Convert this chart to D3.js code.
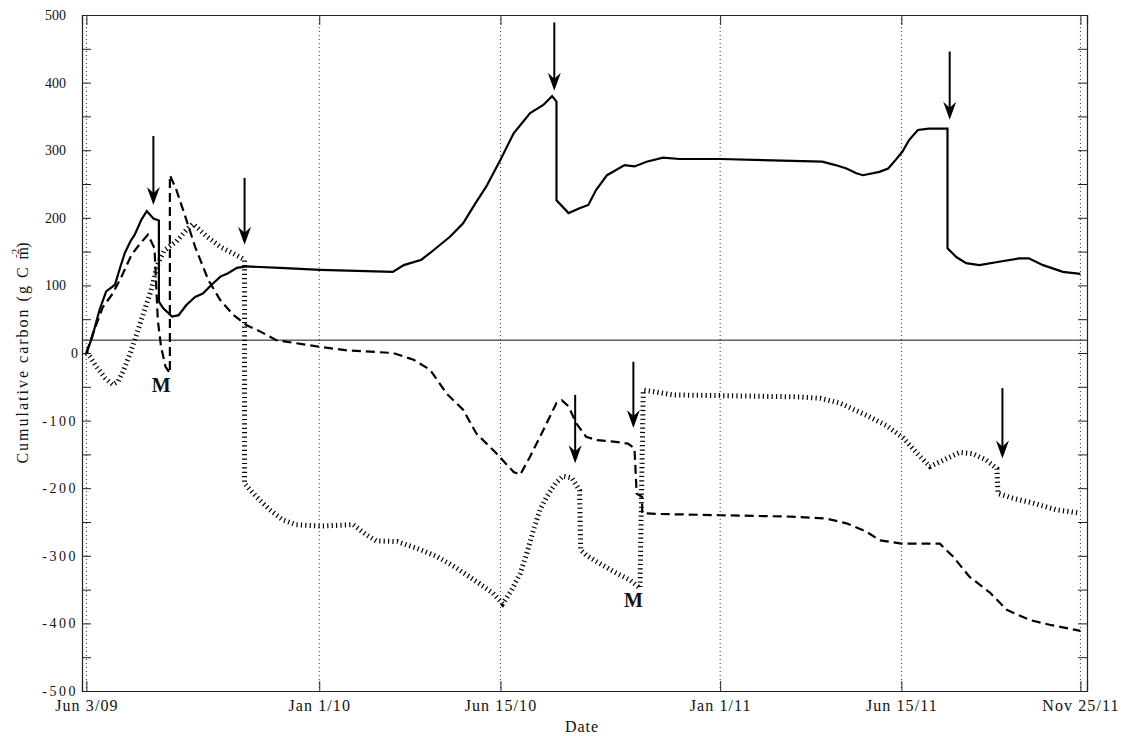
<!DOCTYPE html>
<html><head><meta charset="utf-8">
<script src="https://cdn.jsdelivr.net/npm/d3@7"></script>
<style>
body{margin:0;background:#fff;}
svg text{font-family:"Liberation Serif","Times New Roman",serif !important;fill:#111;}
</style>
</head><body>
<svg id="chart" width="1126" height="736" font-family="Liberation Serif, serif"></svg>
<script>
// ---------- data (days since Jun 3 2009, cumulative carbon g C m-2) ----------
const startDate = "2009-06-03";
const domainDates = ["2009-05-30", "2011-12-01"];
const xTickDates = ["2009-06-03", "2010-01-01", "2010-06-15", "2011-01-01", "2011-06-15", "2011-11-25"];
const xTickLabels = ["Jun 3/09", "Jan 1/10", "Jun 15/10", "Jan 1/11", "Jun 15/11", "Nov 25/11"];
const yTickValues = [-500, -400, -300, -200, -100, 0, 100, 200, 300, 400, 500];
const yMinorValues = [-450, -350, -250, -150, -50, 50, 150, 250, 350, 450];
const referenceLevel = 19;

const solidDays = [0,5,12,18,26,31,35,40,44,50,55,61,66,66,70,78,84,91,99,106,114,122,129,137,146,176,213,279,289,305,316,331,343,354,364,377,389,404,416,424,428,428,439,449,457,464,474,490,499,510,525,540,577,670,682,692,701,707,722,730,737,743,749,757,767,784,784,792,801,813,831,849,858,871,889,905];
const solidValues = [0,22,64,91,101,128,148,165,175,197,210,199,196,76,66,54,56,71,83,88,101,113,118,126,128,126,123,120,130,138,152,172,192,221,246,286,325,355,367,380,372,226,207,214,219,241,263,278,276,283,289,287,287,283,278,273,266,263,268,273,286,298,315,330,332,332,155,142,133,130,135,140,140,130,120,117];

const dashedDays = [0,6,15,24,32,41,49,56,62,65,68,72,76,76,82,90,99,111,122,134,146,158,173,213,237,279,298,313,328,343,355,373,389,395,404,413,422,428,433,439,446,455,465,480,493,499,501,506,506,519,577,641,674,692,710,722,742,777,789,804,823,838,859,877,905];
const dashedValues = [0,29,68,88,113,145,162,175,155,49,9,-20,-30,263,241,202,157,108,78,56,41,32,19,9,4,0,-10,-25,-60,-84,-119,-148,-176,-180,-153,-124,-94,-74,-70,-79,-104,-124,-129,-131,-134,-141,-208,-213,-237,-238,-240,-242,-245,-252,-264,-277,-282,-282,-301,-331,-355,-380,-395,-402,-411];

const dottedDays = [0,3,9,17,24,29,34,40,46,52,59,64,71,82,91,97,110,122,134,144,144,155,167,179,191,213,243,255,264,283,301,319,337,355,370,379,387,395,401,407,413,419,427,434,442,449,450,455,467,483,495,504,507,516,534,577,650,668,686,710,728,744,756,768,777,795,807,819,829,830,844,862,883,901,905];
const dottedValues = [0,-5,-20,-37,-47,-42,-25,0,29,59,93,128,152,165,182,191,172,157,147,138,-193,-213,-232,-247,-254,-256,-254,-269,-278,-279,-289,-301,-318,-338,-355,-371,-351,-326,-296,-262,-232,-213,-193,-182,-185,-203,-291,-299,-311,-326,-336,-348,-55,-57,-62,-63,-65,-67,-74,-92,-107,-126,-148,-168,-161,-147,-149,-158,-171,-208,-215,-222,-232,-236,-237];

const arrowDays = [61, 144, 426, 786, 445, 498, 834];
const arrowTop  = [321, 259, 489, 446, -62, -13, -52];
const arrowTip  = [219, 160, 388, 345, -163, -111, -156];

const mDays = [68, 498];
const mValues = [-58, -375];
const mLabels = ["M", "M"];

// ---------- layout ----------
const FONT = '"Liberation Serif","Times New Roman",serif';
const svg = d3.select("#chart");
const L = 82, R = 1087, T = 15, B = 691;
const parse = d3.timeParse("%Y-%m-%d");
const start = parse(startDate);
const toDate = d => d3.timeDay.offset(start, d);

const x = d3.scaleTime().domain(domainDates.map(parse)).range([L, R]);
const y = d3.scaleLinear().domain([-500, 500]).range([B, T]);

// gridlines (dotted vertical)
svg.append("g").selectAll("line").data(xTickDates).join("line")
  .attr("x1", d => x(parse(d))).attr("x2", d => x(parse(d)))
  .attr("y1", T).attr("y2", B)
  .attr("stroke", "#333").attr("stroke-width", 1).attr("stroke-dasharray", "1,3");

// axes with d3
const xAxisB = d3.axisBottom(x).tickValues(xTickDates.map(parse)).tickSize(-10).tickFormat((d, i) => xTickLabels[i]).tickPadding(9);
const gxb = svg.append("g").attr("transform", `translate(0,${B})`).call(xAxisB);
const xAxisT = d3.axisTop(x).tickValues(xTickDates.map(parse)).tickSize(-10).tickFormat("");
const gxt = svg.append("g").attr("transform", `translate(0,${T})`).call(xAxisT);

const yAll = yTickValues.concat(yMinorValues);
const yAxisL = d3.axisLeft(y).tickValues(yAll).tickSize(-9).tickFormat("");
const gyl = svg.append("g").attr("transform", `translate(${L},0)`).call(yAxisL);
const yAxisR = d3.axisRight(y).tickValues(yAll).tickSize(-9).tickFormat("");
const gyr = svg.append("g").attr("transform", `translate(${R},0)`).call(yAxisR);

[gxb, gxt, gyl, gyr].forEach(g => {
  g.attr("font-family", FONT);
  g.select(".domain").attr("stroke", "#222").attr("stroke-width", 1.2);
  g.selectAll(".tick line").attr("stroke", "#222").attr("stroke-width", 1);
});
gxb.selectAll(".tick text").attr("font-size", 16).attr("letter-spacing", "1.1px")
  .attr("fill", "#111").style("font-family", FONT);

// y tick labels
svg.append("g").selectAll("text").data(yTickValues).join("text")
  .attr("x", d => d > 0 ? 66 : 78)
  .attr("y", d => y(d) + 5)
  .attr("text-anchor", "end")
  .attr("font-size", 14)
  .attr("letter-spacing", d => d < 0 ? "2.5px" : "0px")
  .style("font-family", FONT)
  .text(d => d);

// reference horizontal line
svg.append("line").attr("x1", L).attr("x2", R)
  .attr("y1", y(referenceLevel)).attr("y2", y(referenceLevel))
  .attr("stroke", "#111").attr("stroke-width", 1);

// series
const line = d3.line().x(d => x(toDate(d[0]))).y(d => y(d[1]));
const zip = (a, b) => a.map((d, i) => [d, b[i]]);

svg.append("path").datum(zip(dottedDays, dottedValues)).attr("d", line)
  .attr("fill", "none").attr("stroke", "#000").attr("stroke-width", 5)
  .attr("stroke-dasharray", "1.2,3.2").attr("stroke-linejoin", "miter");
svg.append("path").datum(zip(dashedDays, dashedValues)).attr("d", line)
  .attr("fill", "none").attr("stroke", "#000").attr("stroke-width", 2.2)
  .attr("stroke-dasharray", "9,5");
svg.append("path").datum(zip(solidDays, solidValues)).attr("d", line)
  .attr("fill", "none").attr("stroke", "#000").attr("stroke-width", 2.2);

// arrows
const ag = svg.append("g");
arrowDays.forEach((d, i) => {
  const ax = x(toDate(d)), y0 = y(arrowTop[i]), y1 = y(arrowTip[i]);
  ag.append("line").attr("x1", ax).attr("x2", ax).attr("y1", y0).attr("y2", y1 - 10)
    .attr("stroke", "#000").attr("stroke-width", 2);
  ag.append("path")
    .attr("d", `M${ax},${y1} L${ax - 6.5},${y1 - 18} L${ax},${y1 - 12} L${ax + 6.5},${y1 - 18} Z`)
    .attr("fill", "#000");
});

// M labels
svg.append("g").selectAll("text").data(mLabels).join("text")
  .attr("x", (d, i) => x(toDate(mDays[i])))
  .attr("y", (d, i) => y(mValues[i]))
  .attr("text-anchor", "middle").attr("font-size", 20).attr("font-weight", "bold")
  .style("font-family", FONT)
  .text(d => d);

// axis titles
svg.append("text").attr("x", 582).attr("y", 732).attr("text-anchor", "middle")
  .attr("font-size", 16).attr("letter-spacing", "1px").style("font-family", FONT).text("Date");

const yl = svg.append("text").attr("transform", "translate(28,352) rotate(-90)")
  .attr("text-anchor", "middle").attr("font-size", 16).attr("letter-spacing", "2px")
  .style("font-family", FONT);
yl.append("tspan").text("Cumulative carbon (g C m");
yl.append("tspan").attr("font-size", 11).attr("dx", -13).attr("dy", -9).attr("letter-spacing", "0px").text("-2");
yl.append("tspan").attr("dy", 9).attr("dx", 1).text(")");
</script>
</body></html>
